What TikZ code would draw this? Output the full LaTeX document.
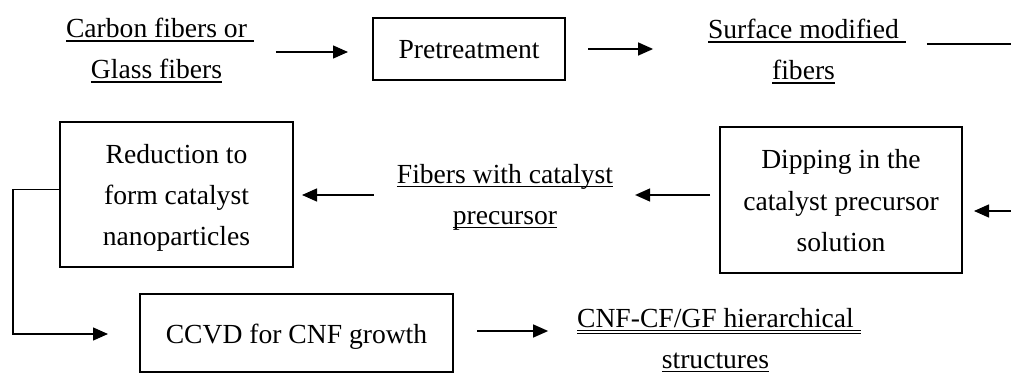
\documentclass[tikz,border=0pt]{standalone}
\usepackage{fontspec}
\setmainfont{Liberation Serif}
\usetikzlibrary{arrows.meta,calc}
\newsavebox\ulbox
\newcommand\figfont{\fontsize{27.6pt}{41pt}\selectfont\setbox\strutbox\hbox{\vrule height30.5pt depth10.5pt width0pt}}
\newcommand\lns[1]{\begin{tabular}[t]{@{}c@{}}#1\end{tabular}}
\newcommand\ulx[1]{\sbox\ulbox{#1}\rlap{\rule[-3.6pt]{\wd\ulbox}{1.3pt}}\usebox\ulbox}
\newcommand\dulx[1]{\sbox\ulbox{#1}\rlap{\rule[-6.5pt]{\wd\ulbox}{1pt}}\rlap{\rule[-3pt]{\wd\ulbox}{1pt}}\usebox\ulbox}
\newcommand\tsp{\rlap{\rule[-3.6pt]{.25em}{1.3pt}}}
\newcommand\tdsp{\rlap{\rule[-6.5pt]{.25em}{1pt}}\rlap{\rule[-3pt]{.25em}{1pt}}}
\begin{document}
\begin{tikzpicture}[x=1pt,y=-1pt,
  every node/.style={font=\figfont, inner sep=0pt, outer sep=0pt},
  stepbox/.style={draw, line width=1.3pt},
  txt/.style={anchor=base},
  conn/.style={line width=1.4pt},
  arr/.style={conn, -{Triangle[length=15pt,width=13pt]}}]
\clip (0,0) rectangle (1011,374);

\node[txt] (cf) at (156.5,38) {\lns{\ulx{Carbon fibers or}\tsp\\ \ulx{Glass fibers}}};
\node[stepbox, minimum width=192pt, minimum height=62pt] (pre) at (469,49) {\lns{Pretreatment}};
\node[txt] (smf) at (803.5,39) {\lns{\ulx{Surface modified}\tsp\\ \ulx{fibers}}};
\node[stepbox, minimum width=242pt, minimum height=146pt] (dip) at (841,200) {\lns{Dipping in the\\ catalyst precursor\\ solution}};
\node[txt] (fcp) at (505,183.5) {\lns{\ulx{Fibers with catalyst}\\ \ulx{precursor}}};
\node[stepbox, minimum width=233pt, minimum height=145pt] (red) at (176.5,194.5) {\lns{Reduction to\\ form catalyst\\ nanoparticles}};
\node[stepbox, minimum width=313pt, minimum height=78pt] (ccvd) at (296.5,333) {\lns{CCVD for CNF growth}};
\node[txt] (cnf) at (715.5,327.5) {\lns{\dulx{CNF-CF/GF hierarchical}\tdsp\\ \ulx{structures}}};

\coordinate (c1) at (1040,44);
\coordinate (c2) at (1040,211);

\draw[arr, shorten <=29pt, shorten >=25pt] ($(cf.east |- pre.west)+(0,3)$) -- ($(pre.west)+(0,3)$);
\draw[arr, shorten <=23pt, shorten >=55pt] (pre.east) -- (pre.east -| smf.west);
\draw[arr, shorten >=12pt] ($(smf.east |- c1)+(28,0)$) -- (c1) -- (c2) -- (c2 -| dip.east);
\draw[arr, shorten <=10pt, shorten >=22pt] ($(dip.west)+(0,-5)$) -- ($(dip.west -| fcp.east)+(0,-5)$);
\draw[arr, shorten <=23pt, shorten >=9pt] ($(dip.west -| fcp.west)+(0,-5)$) -- ($(dip.west -| red.east)+(0,-5)$);
\draw[arr, shorten >=32pt] ($(red.west)+(0,-5)$) -- ++(-47,0) |- ($(ccvd.west)+(0,1)$);
\draw[arr, shorten <=24pt, shorten >=29pt] ($(ccvd.east)+(0,-2)$) -- ($(ccvd.east -| cnf.west)+(0,-2)$);
\end{tikzpicture}
\end{document}
